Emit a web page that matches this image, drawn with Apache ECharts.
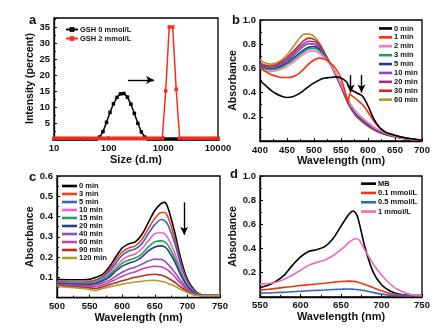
<!DOCTYPE html>
<html>
<head>
<meta charset="utf-8">
<script src="https://cdn.jsdelivr.net/npm/echarts@6/dist/echarts.min.js"></script>
<style>
  html, body { margin: 0; padding: 0; background: #fff; }
  #fig { width: 443px; height: 331px; }
</style>
</head>
<body>
<div id="fig"></div>
<script>
// ---- panel a : DLS size distribution ----
var dlsSize = [10,11.7,13.5,15.7,18.2,21.0,24.4,28.2,32.7,37.8,43.8,50.7,58.8,
  68.1,78.8,91.3,105.7,122.4,141.8,164.2,190.1,220.2,255.0,295.3,342.0,396.1,458.7,
  531.2,615.1,712.4,825.0,955.4,1106,1281,1484,1718,1990,2305,2669,3091,3580,4145,4801,5560,6439,7456,8635,10000];
var gsh0 = [0,0,0,0,0,0,0,0,0,0,0,0,0,
  0.6,2.3,5.2,8.3,11.0,13.0,14.1,14.2,13.1,10.9,8.0,4.9,2.2,0.6,
  0,0,0,0,0,0,0,0,0,0,0,0,0,0,0,0,0,0,0,0,0];
var gsh2 = [0.25,0.25,0.25,0.25,0.25,0.25,0.25,0.25,0.25,0.25,0.25,0.25,0.25,
  0.25,0.25,0.25,0.25,0.25,0.25,0.25,0.25,0.25,0.25,0.25,0.25,0.25,0.25,
  0.25,0.25,0.25,0.25,0.25,15,35,35,15.5,0.25,0.25,0.25,0.25,0.25,0.25,0.25,0.25,0.25,0.25,0.25,0.25];
var arrowA = [[225, 18.4], [675, 18.4]];

// ---- panel b : absorbance vs time ----
var wlB = [400,410,420,430,440,450,460,470,480,490,500,510,520,530,540,550,560,563,566,570,580,590,600,610,620,630,640,660,680,700];
var b0  = [.50,.46,.42,.39,.37,.36,.365,.385,.415,.45,.48,.505,.52,.525,.53,.52,.49,.465,.435,.42,.395,.37,.29,.19,.12,.08,.06,.035,.018,.006];
var b1  = [.605,.575,.55,.535,.525,.525,.53,.55,.59,.635,.67,.685,.675,.645,.60,.52,.37,.315,.39,.375,.34,.30,.24,.17,.115,.08,.06,.035,.018,.006];
var b2  = [.60,.58,.575,.58,.595,.615,.645,.68,.715,.74,.745,.725,.685,.635,.56,.47,.37,.34,.315,.285,.225,.185,.15,.115,.09,.07,.052,.03,.015,.005];
var b3  = [.615,.595,.59,.595,.61,.635,.665,.70,.735,.76,.765,.745,.70,.64,.56,.47,.37,.34,.315,.285,.228,.188,.152,.117,.09,.07,.052,.03,.015,.005];
var b5  = [.62,.60,.595,.60,.62,.645,.68,.715,.75,.775,.78,.755,.705,.64,.555,.465,.36,.33,.305,.275,.215,.175,.14,.107,.083,.064,.048,.028,.014,.005];
var b10 = [.63,.605,.60,.61,.63,.66,.70,.74,.78,.805,.80,.77,.71,.64,.555,.46,.355,.325,.30,.27,.21,.17,.135,.103,.08,.062,.047,.027,.014,.005];
var b20 = [.64,.615,.61,.62,.64,.675,.715,.76,.80,.825,.82,.785,.715,.64,.55,.455,.35,.32,.295,.265,.205,.165,.13,.10,.078,.06,.046,.027,.013,.005];
var b30 = [.65,.625,.62,.63,.655,.69,.735,.78,.825,.85,.84,.80,.72,.64,.55,.45,.345,.315,.29,.26,.20,.16,.126,.097,.075,.058,.045,.026,.013,.005];
var b60 = [.67,.645,.635,.645,.67,.71,.77,.83,.88,.885,.865,.81,.73,.64,.545,.445,.34,.31,.285,.255,.195,.155,.122,.094,.072,.056,.044,.025,.012,.005];
var namesB = ['0 min','1 min','2 min','3 min','5 min','10 min','20 min','30 min','60 min'];
var colorsB = ['#000000','#ff2d0a','#f27cc9','#1e9e5e','#283a8e','#8a48c8','#a2308f','#d0281e','#a39a2e'];
var arrowsB = [[[568, .545], [568, .40]], [[588, .545], [588, .40]]];

// ---- panel c ----
var wlC = [500,520,540,550,560,570,580,590,600,610,620,630,640,650,660,665,670,680,690,700,710,720,730,750];
var c0   = [.09,.088,.088,.09,.10,.115,.15,.20,.245,.265,.275,.31,.37,.43,.465,.47,.445,.33,.19,.09,.04,.015,.01,.01];
var c3   = [.08,.077,.077,.08,.088,.105,.14,.185,.225,.245,.255,.285,.34,.39,.42,.42,.40,.30,.17,.08,.035,.015,.01,.01];
var c5   = [.078,.075,.074,.076,.083,.10,.13,.17,.21,.23,.24,.265,.315,.36,.385,.38,.36,.275,.16,.075,.033,.014,.01,.01];
var c10  = [.075,.072,.07,.072,.078,.093,.12,.155,.185,.205,.215,.24,.28,.315,.32,.315,.295,.225,.135,.068,.03,.013,.01,.01];
var c15  = [.072,.07,.068,.07,.075,.088,.11,.14,.17,.185,.195,.215,.25,.275,.28,.275,.26,.20,.12,.06,.027,.012,.01,.01];
var c20  = [.07,.067,.065,.066,.07,.082,.10,.13,.155,.17,.18,.20,.23,.25,.255,.25,.235,.18,.11,.055,.025,.011,.01,.01];
var c40  = [.065,.062,.06,.06,.063,.072,.085,.105,.125,.14,.15,.165,.18,.19,.188,.18,.165,.128,.082,.043,.02,.01,.01,.01];
var c60  = [.06,.058,.056,.055,.055,.063,.075,.09,.105,.118,.128,.14,.15,.155,.152,.145,.135,.105,.068,.037,.018,.01,.01,.01];
var c90  = [.058,.055,.05,.048,.045,.053,.063,.073,.083,.092,.10,.107,.113,.115,.11,.105,.097,.077,.052,.03,.015,.01,.01,.01];
var c120 = [.055,.05,.045,.04,.035,.045,.053,.06,.066,.072,.077,.081,.084,.085,.08,.077,.07,.057,.04,.025,.013,.01,.01,.01];
var namesC = ['0 min','3 min','5 min','10 min','15 min','20 min','40 min','60 min','90 min','120 min'];
var colorsC = ['#000000','#f0401e','#3a62c8','#f065c2','#22a052','#283c8c','#9050c0','#c442b2','#c42a20','#aaa232'];
var arrowC = [[695, .47], [695, .31]];

// ---- panel d ----
var wlD = [550,560,570,580,590,600,610,620,630,640,650,660,665,670,680,690,700,710,720,735,750];
var dMB  = [.075,.095,.13,.18,.26,.33,.375,.39,.415,.48,.585,.685,.71,.67,.40,.20,.10,.05,.025,.012,.01];
var d01  = [.055,.062,.07,.078,.085,.093,.10,.106,.112,.12,.127,.13,.128,.122,.10,.075,.05,.03,.018,.01,.01];
var d05  = [.03,.032,.035,.038,.042,.046,.05,.053,.056,.06,.063,.065,.063,.06,.05,.035,.022,.014,.01,.01,.01];
var d1   = [.105,.11,.12,.145,.18,.22,.26,.285,.305,.34,.39,.45,.475,.48,.38,.27,.18,.11,.06,.02,.01];
var namesD = ['MB','0.1 mmol/L','0.5 mmol/L','1 mmol/L'];
var colorsD = ['#000000','#f23412','#3464c8','#ea6cbc'];

var FONT = '"Liberation Sans", Arial, sans-serif';

function pairs(xs, ys) {
    return xs.map(function (x, i) { return [x, ys[i]]; });
}

function axisBase(gi) {
    return {
        gridIndex: gi,
        axisLine: { show: true, onZero: false, lineStyle: { color: '#000', width: 1.3 } },
        axisTick: { show: true, inside: true, length: 3, lineStyle: { color: '#000', width: 1 } },
        minorTick: { show: true, splitNumber: 2, length: 2, lineStyle: { color: '#000' } },
        splitLine: { show: false },
        axisLabel: { color: '#111', fontSize: 9.5, fontWeight: 'bold', fontFamily: FONT, margin: 4 },
        nameTextStyle: { color: '#111', fontSize: 11, fontWeight: 'bold', fontFamily: FONT },
        nameLocation: 'middle'
    };
}

function xAx(gi, min, max, interval, name, gap) {
    var a = axisBase(gi);
    a.type = 'value'; a.min = min; a.max = max; a.interval = interval;
    a.name = name; a.nameGap = gap;
    return a;
}

function yAx(gi, min, max, interval, name, gap, dec) {
    var a = axisBase(gi);
    a.type = 'value'; a.min = min; a.max = max; a.interval = interval;
    a.name = name; a.nameGap = gap;
    a.nameTextStyle.fontSize = 10.5;
    a.axisLabel.formatter = function (v) {
        if (v <= 0 || Math.abs(v / interval - Math.round(v / interval)) > 1e-6) return '';
        return dec ? v.toFixed(dec) : String(v);
    };
    return a;
}

function lineSeries(prefix, name, color, xs, ys, gi) {
    return {
        name: prefix + '|' + name, type: 'line', xAxisIndex: gi, yAxisIndex: gi,
        data: pairs(xs, ys), symbol: 'none', smooth: 0.3,
        lineStyle: { color: color, width: 1.6 }, itemStyle: { color: color },
        animation: false
    };
}

function legend(prefix, names, left, top, lh, iw, plain) {
    var l = {
        orient: 'vertical', left: left, top: top, padding: 0, itemGap: 0,
        itemWidth: iw, itemHeight: plain ? 6 : 2.6,
        data: names.map(function (n) { return prefix + '|' + n; }),
        formatter: function (n) { return n.split('|')[1]; },
        textStyle: { fontSize: 7.5, fontWeight: 'bold', color: '#111', fontFamily: FONT, lineHeight: lh, padding: [0, 0, 0, -3] },
        selectedMode: false
    };
    if (!plain) l.icon = 'rect';
    return l;
}

function arrowLine(segs) {
    return {
        silent: true, symbol: ['none', 'arrow'], symbolSize: [6, 8], animation: false,
        label: { show: false },
        lineStyle: { color: '#000', width: 1.4, type: 'solid' },
        data: segs.map(function (s) { return [{ coord: s[0] }, { coord: s[1] }]; })
    };
}

var series = [];

// a
var xa = axisBase(0);
xa.type = 'log'; xa.logBase = 10; xa.min = 10; xa.max = 10000;
xa.name = 'Size (d.m)'; xa.nameGap = 15;
xa.minorTick = { show: false };
xa.axisLabel.formatter = function (v) { return String(v); };
var ya = yAx(0, 0, 37.8, 5, 'Intensity (percent)', 18, 0);

series.push({
    name: 'a|GSH 0 mmol/L', type: 'line', xAxisIndex: 0, yAxisIndex: 0,
    data: pairs(dlsSize, gsh0), symbol: 'rect', symbolSize: 3.5, showSymbol: true,
    lineStyle: { color: '#000', width: 1.5 }, itemStyle: { color: '#000' }, animation: false,
    markLine: arrowLine([arrowA])
});
series.push({
    name: 'a|GSH 2 mmol/L', type: 'line', xAxisIndex: 0, yAxisIndex: 0,
    data: pairs(dlsSize, gsh2), symbol: 'rect', symbolSize: 3.5, showSymbol: true,
    lineStyle: { color: '#ff2a1a', width: 1.5 }, itemStyle: { color: '#ff2a1a' }, animation: false, z: 3
});

// b
var bData = [b0, b1, b2, b3, b5, b10, b20, b30, b60];
bData.forEach(function (ys, i) {
    var s = lineSeries('b', namesB[i], colorsB[i], wlB, ys, 1);
    s.z = 2 + (bData.length - i) * 0.01;
    if (i === 0) { s.markLine = arrowLine(arrowsB); s.z = 3; }
    if (i === 1) s.smooth = 0.15;
    series.push(s);
});

// c
var cData = [c0, c3, c5, c10, c15, c20, c40, c60, c90, c120];
cData.forEach(function (ys, i) {
    var s = lineSeries('c', namesC[i], colorsC[i], wlC, ys, 2);
    if (i === 0) s.markLine = arrowLine([arrowC]);
    series.push(s);
});

// d
var dData = [dMB, d01, d05, d1];
dData.forEach(function (ys, i) {
    series.push(lineSeries('d', namesD[i], colorsD[i], wlD, ys, 3));
});

var gridStyle = { show: true, borderColor: '#000', borderWidth: 1.3, backgroundColor: 'transparent' };

var option = {
    backgroundColor: '#fff',
    animation: false,
    textStyle: { fontFamily: FONT },
    grid: [
        Object.assign({ left: 54, top: 18, width: 164, height: 121 }, gridStyle),
        Object.assign({ left: 260, top: 20, width: 162, height: 121 }, gridStyle),
        Object.assign({ left: 57, top: 176, width: 163, height: 121.6 }, gridStyle),
        Object.assign({ left: 260, top: 176, width: 162, height: 120.8 }, gridStyle)
    ],
    xAxis: [
        xa,
        xAx(1, 400, 700, 50, 'Wavelength (nm)', 13),
        xAx(2, 500, 750, 50, 'Wavelength (nm)', 13),
        xAx(3, 550, 750, 50, 'Wavelength (nm)', 13)
    ],
    yAxis: [
        ya,
        yAx(1, 0, 1, 0.2, 'Absorbance', 20, 1),
        yAx(2, 0, 0.6, 0.1, 'Absorbance', 20, 1),
        yAx(3, 0, 1, 0.2, 'Absorbance', 20, 1)
    ],
    legend: [
        legend('a', ['GSH 0 mmol/L', 'GSH 2 mmol/L'], 65, 25, 9, 12, true),
        legend('b', namesB, 379, 24, 8.9, 13),
        legend('c', namesC, 62, 182, 7.9, 15),
        legend('d', namesD, 361, 179, 9.3, 15)
    ],
    graphic: [
        { type: 'text', left: 29, top: 14, style: { text: 'a', font: 'bold 13px ' + FONT, fill: '#111' } },
        { type: 'text', left: 232, top: 14, style: { text: 'b', font: 'bold 13px ' + FONT, fill: '#111' } },
        { type: 'text', left: 29, top: 171, style: { text: 'c', font: 'bold 13px ' + FONT, fill: '#111' } },
        { type: 'text', left: 230, top: 168, style: { text: 'd', font: 'bold 13px ' + FONT, fill: '#111' } }
    ],
    series: series
};

var chart = echarts.init(document.getElementById('fig'), null, { renderer: 'canvas' });
chart.setOption(option);
</script>
</body>
</html>
